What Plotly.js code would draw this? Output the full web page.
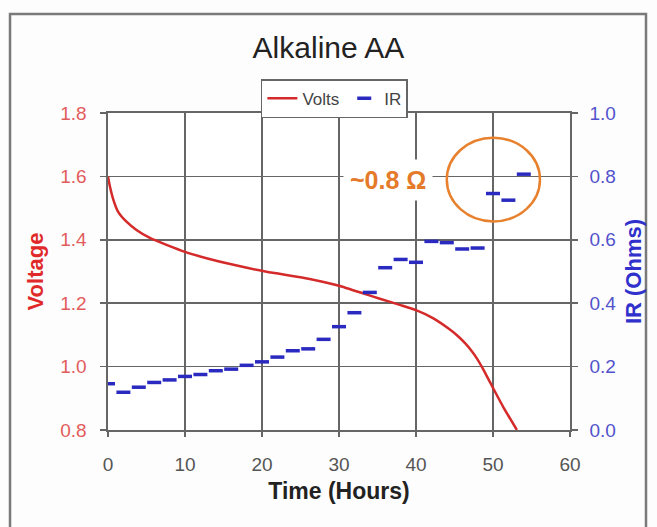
<!DOCTYPE html>
<html>
<head>
<meta charset="utf-8">
<script src="https://cdn.plot.ly/plotly-3.0.1.min.js"></script>
<style>
  html, body { margin: 0; padding: 0; background: #fdfdfd; }
  #chart { width: 657px; height: 527px; }
</style>
</head>
<body>
<div id="chart"></div>
<script>
// Voltage discharge curve (hours, volts)
const voltHours = [0, 0.25, 0.7, 1.3, 2.4, 3.7, 5.5, 7.6, 10, 12.8, 16.3, 20.6, 25, 28, 30, 33, 35.3, 38, 40, 42.2, 44.4, 45.5, 46.4, 47.2, 47.9, 48.7, 49.8, 51.3, 53.1];
const volts     = [1.60, 1.568, 1.526, 1.489, 1.457, 1.431, 1.405, 1.384, 1.362, 1.342, 1.321, 1.299, 1.282, 1.267, 1.255, 1.232, 1.214, 1.194, 1.178, 1.153, 1.117, 1.095, 1.073, 1.050, 1.026, 0.993, 0.942, 0.874, 0.80];

// Internal resistance readings (hours, ohms)
const irHours = [0, 2, 4, 6, 8, 10, 12, 14, 16, 18, 20, 22, 24, 26, 28, 30, 32, 34, 36, 38, 40, 42, 44, 46, 48, 50, 52, 54];
const irOhms  = [0.146, 0.119, 0.135, 0.150, 0.158, 0.169, 0.175, 0.187, 0.192, 0.204, 0.215, 0.230, 0.250, 0.256, 0.286, 0.326, 0.370, 0.434, 0.512, 0.538, 0.529, 0.595, 0.591, 0.571, 0.574, 0.746, 0.725, 0.807];

const xTickVals = [0, 10, 20, 30, 40, 50, 60];
const vTickVals = [0.8, 1.0, 1.2, 1.4, 1.6, 1.8];
const irTickVals = [0.0, 0.2, 0.4, 0.6, 0.8, 1.0];

const chartTitle = "Alkaline AA";
const xTitle = "Time (Hours)";
const vTitle = "Voltage";
const irTitle = "IR (Ohms)";
const noteText = "~0.8 Ω";
const noteHour = 36.3, noteVolt = 1.59;
const circleBox = [44.0, 56.1, 1.458, 1.722];

const gridColor = "#666666";

const traces = [
  {
    x: voltHours, y: volts, name: "Volts", type: "scatter", mode: "lines",
    line: { color: "#d42a2a", width: 2.5, shape: "spline", smoothing: 0.5 },
    yaxis: "y"
  },
  {
    x: irHours, y: irOhms, name: "IR", type: "scatter", mode: "markers",
    marker: { symbol: "line-ew", size: 10, line: { color: "#2a2ac0", width: 3.5 } },
    yaxis: "y2"
  }
];

const layout = {
  width: 657, height: 527,
  paper_bgcolor: "#fdfdfd", plot_bgcolor: "#ffffff",
  margin: { l: 108, r: 87, t: 113, b: 97 },
  font: { family: "Liberation Sans, Arial, sans-serif" },
  title: { text: chartTitle, x: 0.5, xanchor: "center", y: 0.91, yanchor: "middle",
           font: { size: 30, color: "#222222" } },
  showlegend: true,
  legend: {
    orientation: "h", x: 0.49, xanchor: "center", y: 1.107, yanchor: "top",
    bgcolor: "#ffffff", bordercolor: "#666666", borderwidth: 1.5,
    font: { size: 17, color: "#444444" }, itemwidth: 30, tracegroupgap: 0
  },
  xaxis: {
    range: [0, 60], tickvals: xTickVals, showgrid: true, gridcolor: gridColor, gridwidth: 1.6,
    showline: true, linecolor: gridColor, linewidth: 1.6, mirror: true,
    ticks: "outside", ticklen: 5, tickcolor: gridColor, tickwidth: 1.5,
    ticklabelstandoff: 12, zeroline: false,
    tickfont: { size: 19, color: "#555555" },
    title: { text: xTitle, standoff: 8, font: { size: 23, color: "#222222", weight: "bold" } }
  },
  yaxis: {
    range: [0.8, 1.8], tickvals: vTickVals, tickformat: ".1f",
    showgrid: true, gridcolor: gridColor, gridwidth: 1.6,
    showline: true, linecolor: gridColor, linewidth: 1.6,
    ticks: "outside", ticklen: 6, tickcolor: gridColor, tickwidth: 1.5,
    ticklabelstandoff: 10, zeroline: false,
    tickfont: { size: 19, color: "#e25c5c" },
    title: { text: vTitle, standoff: 10, font: { size: 22, color: "#e02a2a", weight: "bold" } }
  },
  yaxis2: {
    range: [0, 1.0], tickvals: irTickVals, tickformat: ".1f", overlaying: "y", side: "right",
    showgrid: false, showline: true, linecolor: gridColor, linewidth: 1.6,
    ticks: "outside", ticklen: 6, tickcolor: gridColor, tickwidth: 1.5,
    ticklabelstandoff: 8, zeroline: false,
    tickfont: { size: 19, color: "#5252cc" },
    title: { text: irTitle, standoff: 10, font: { size: 22, color: "#3030cc", weight: "bold" } }
  },
  annotations: [
    {
      x: noteHour, y: noteVolt, xref: "x", yref: "y", text: noteText, showarrow: false,
      font: { size: 25, color: "#e47a2a", weight: "bold" }, bgcolor: "#ffffff", borderpad: 6,
      xanchor: "center", yanchor: "middle"
    }
  ],
  shapes: [
    {
      type: "circle", xref: "x", yref: "y",
      x0: circleBox[0], x1: circleBox[1], y0: circleBox[2], y1: circleBox[3],
      line: { color: "#e8812e", width: 2.5 }
    },
    {
      type: "rect", xref: "paper", yref: "paper",
      x0: -0.2121, x1: 1.1645, y0: -0.35, y1: 1.3123,
      line: { color: "#7a7a7a", width: 2.5 }, layer: "below"
    }
  ]
};

Plotly.newPlot("chart", traces, layout, { displayModeBar: false, staticPlot: true });
</script>
</body>
</html>
